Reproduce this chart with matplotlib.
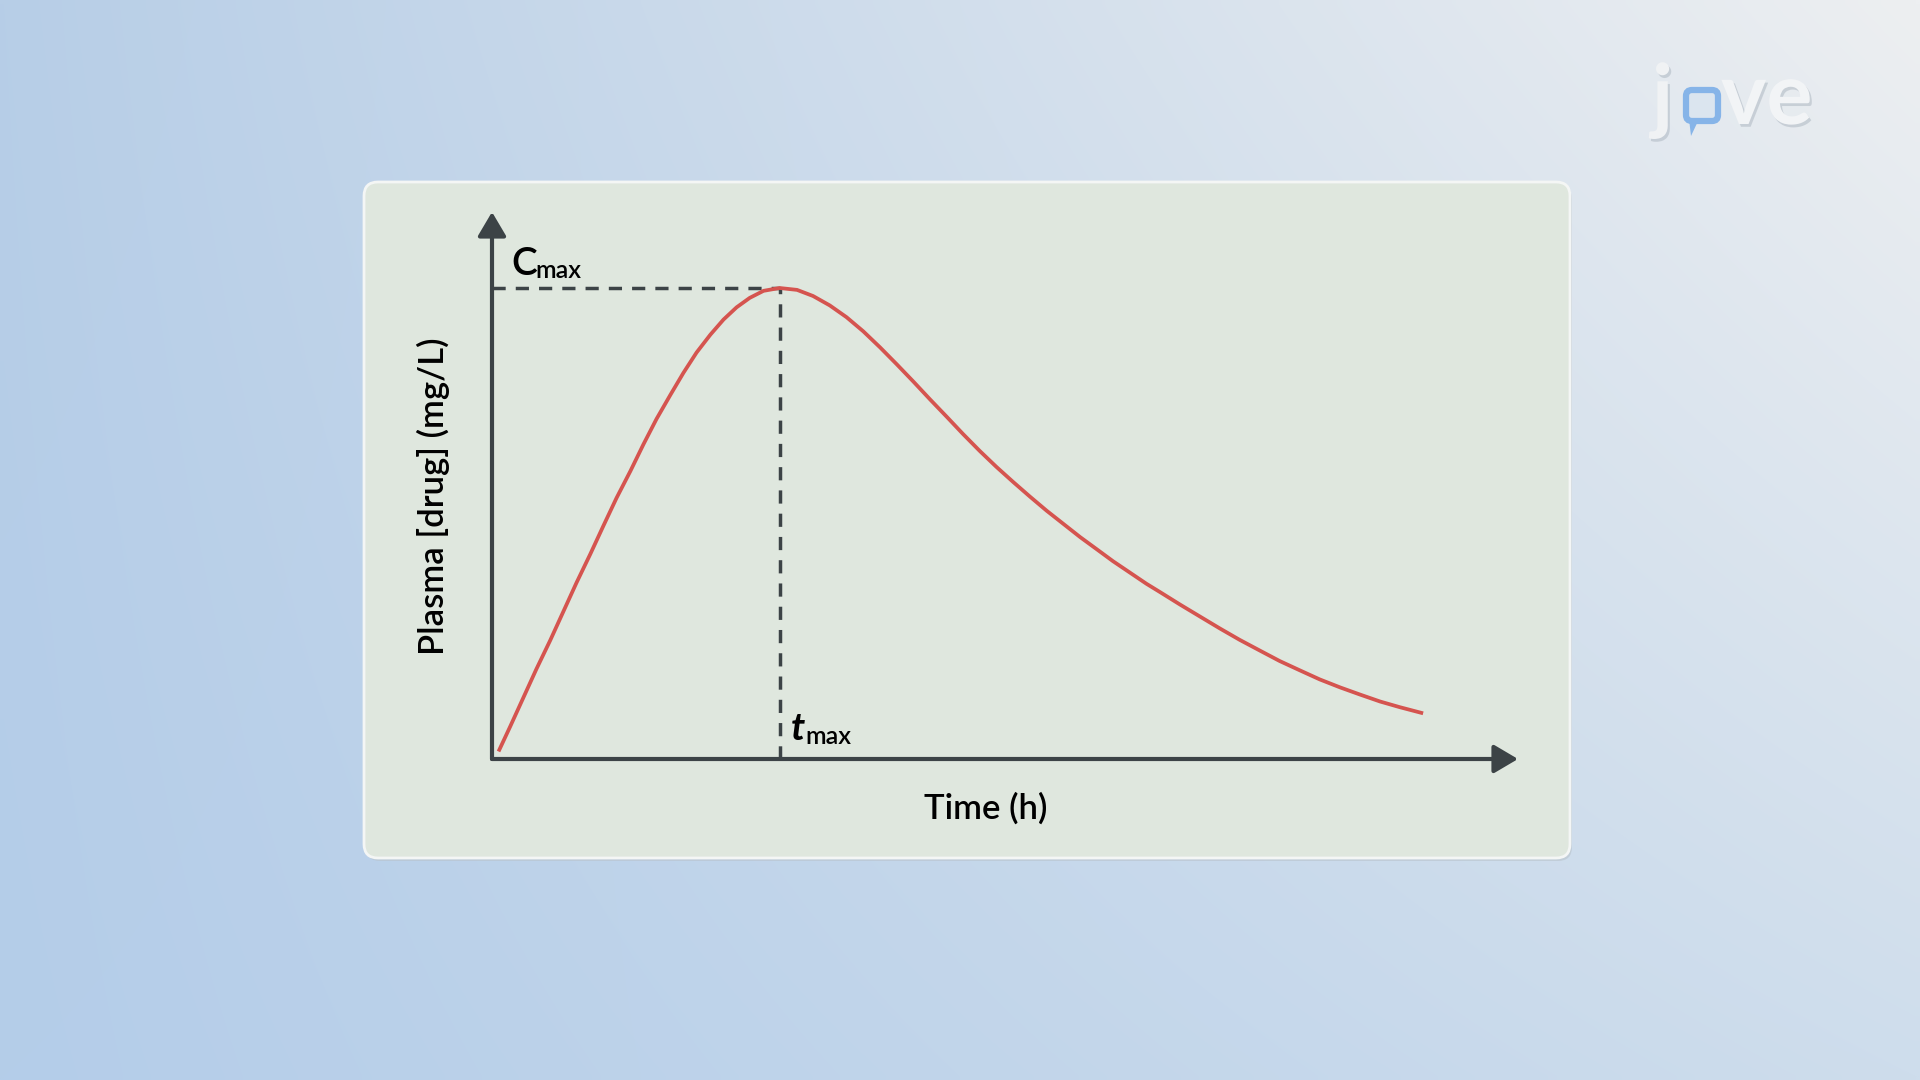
import matplotlib
matplotlib.use("Agg")
import matplotlib.pyplot as plt
import matplotlib.patheffects as pe
import numpy as np
from matplotlib.patches import FancyBboxPatch, Polygon

plt.rcParams['font.family'] = ['Lato', 'DejaVu Sans']

# concentration-time curve (time in h, conc in mg/L, peak = 10)
time_h = [0.09, 0.25, 0.43, 0.61, 0.80, 0.98, 1.16, 1.35, 1.53, 1.71, 1.90, 2.08,
          2.26, 2.45, 2.63, 2.81, 3.00, 3.18, 3.36, 3.54, 3.73, 3.95, 4.19, 4.41,
          4.64, 4.87, 5.10, 5.33, 5.56, 5.79, 6.02, 6.25, 6.47, 6.70, 6.93, 7.16,
          7.39, 7.62, 7.85, 8.08, 8.31, 8.53, 8.76, 8.99, 9.18, 9.45, 9.73, 10.00,
          10.27, 10.55, 10.82, 11.10, 11.37, 11.65, 11.92, 12.20, 12.47, 12.79]
conc = [0.16, 0.69, 1.30, 1.91, 2.52, 3.13, 3.74, 4.35, 4.95, 5.54, 6.11, 6.68,
        7.22, 7.73, 8.20, 8.63, 9.01, 9.33, 9.59, 9.79, 9.94, 10.00, 9.96, 9.83,
        9.63, 9.38, 9.08, 8.74, 8.38, 8.01, 7.63, 7.26, 6.90, 6.54, 6.20, 5.88,
        5.57, 5.27, 4.99, 4.71, 4.45, 4.20, 3.96, 3.72, 3.54, 3.28, 3.02, 2.77,
        2.53, 2.30, 2.08, 1.88, 1.69, 1.52, 1.37, 1.22, 1.10, 0.97]
x_label = "Time (h)"
y_label = "Plasma [drug] (mg/L)"

W, H = 1920, 1080
fig = plt.figure(figsize=(19.2, 10.8), dpi=100)

# background gradient
bg = fig.add_axes([0, 0, 1, 1])
bg.set_xlim(0, W)
bg.set_ylim(H, 0)
bg.axis('off')
u = np.linspace(0, 1, 240)[None, :, None]
v = np.linspace(0, 1, 135)[:, None, None]
tl = np.array([183, 206, 231]) / 255
tr = np.array([237, 239, 241]) / 255
bl = np.array([180, 205, 233]) / 255
br = np.array([206, 221, 236]) / 255
grad = (1 - u) * (1 - v) * tl + u * (1 - v) * tr + (1 - u) * v * bl + u * v * br
bg.imshow(grad, extent=(0, W, H, 0), aspect='auto', interpolation='bilinear')

# panel
shadow = FancyBboxPatch((366, 185), 1206, 676, boxstyle="round,pad=0,rounding_size=14",
                        fc='#b9c3cc', ec='none', alpha=0.6)
bg.add_patch(shadow)
panel = FancyBboxPatch((364, 182), 1206, 676, boxstyle="round,pad=0,rounding_size=14",
                       fc='#dfe7de', ec='#f4f6f5', lw=2)
bg.add_patch(panel)

# logo
shade = [pe.withSimplePatchShadow(offset=(1.5, -2), shadow_rgbFace='#aab4be', alpha=0.5)]
bg.text(1652, 124, "j", fontsize=60, fontweight='bold', color='#f0f2f4', va='baseline',
        path_effects=shade)
bg.text(1721, 124, "ve", fontsize=62, fontweight='bold', color='#f2f4f6', va='baseline',
        path_effects=shade)
bubble = FancyBboxPatch((1686, 90), 32, 31, boxstyle="round,pad=0,rounding_size=6",
                        fc='#dbe5ef', ec='#86b4e8', lw=4.5)
bg.add_patch(bubble)
bg.add_patch(Polygon([[1689, 119], [1699, 119], [1691, 136]], closed=True,
                     fc='#86b4e8', ec='none'))

# plot area, origin at the axis corner
x0, y0, x1, y1 = 492, 759, 1518, 212
ax = fig.add_axes([x0 / W, (H - y0) / H, (x1 - x0) / W, (y0 - y1) / H])
ax.set_xlim(0, (x1 - x0) / 72.8)
ax.set_ylim(0, (y0 - y1) / 47.1)
ax.axis('off')
ax.patch.set_visible(False)

axis_col = '#3c4346'
arrow = dict(arrowstyle='-|>,head_length=1.05,head_width=0.62', lw=3.0, color=axis_col,
             shrinkA=0, shrinkB=0, mutation_scale=14)
ax.annotate('', xy=(ax.get_xlim()[1], 0), xytext=(0, 0), arrowprops=arrow,
            annotation_clip=False)
ax.annotate('', xy=(0, ax.get_ylim()[1]), xytext=(0, 0), arrowprops=arrow,
            annotation_clip=False)

i_max = int(np.argmax(conc))
t_max, c_max = time_h[i_max], conc[i_max]
ax.plot([0, t_max], [c_max, c_max], color=axis_col, lw=2.5, dashes=(3.8, 2.9))
ax.plot([t_max, t_max], [0, c_max], color=axis_col, lw=2.5, dashes=(3.8, 2.9))
ax.plot(time_h, conc, color='#d5544f', lw=2.7, solid_capstyle='butt',
        solid_joinstyle='round', clip_on=False)

ax.annotate("C", xy=(0, c_max), xytext=(19, 13), textcoords='offset pixels',
            fontsize=28, fontweight='semibold', va='baseline', color='black')
ax.annotate("max", xy=(0, c_max), xytext=(43, 10), textcoords='offset pixels',
            fontsize=18, fontweight='semibold', va='baseline', color='black')
ax.annotate("t", xy=(t_max, 0), xytext=(11, 19), textcoords='offset pixels',
            fontsize=28, fontweight='bold', style='italic', va='baseline', color='black')
ax.annotate("max", xy=(t_max, 0), xytext=(26, 15), textcoords='offset pixels',
            fontsize=18, fontweight='semibold', va='baseline', color='black')

fig.text(986 / W, 1 - 808 / H, x_label, fontsize=25, ha='center', va='center',
         color='black', fontweight='semibold')
fig.text(433 / W, 1 - 496 / H, y_label, fontsize=25, ha='center', va='center',
         rotation=90, color='black', fontweight='semibold')

fig.savefig("out.png", dpi=100)
